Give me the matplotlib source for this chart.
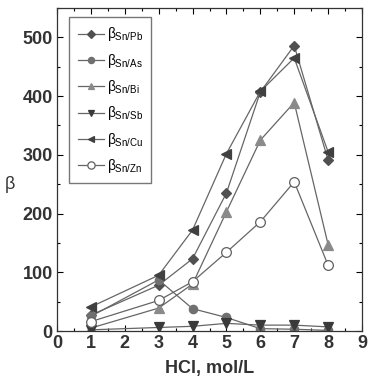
import matplotlib
matplotlib.use("Agg")
import matplotlib.pyplot as plt
from matplotlib.ticker import MultipleLocator

plt.rcParams['font.family'] = ['Liberation Sans', 'DejaVu Sans']
plt.rcParams['mathtext.fontset'] = 'custom'
plt.rcParams['mathtext.rm'] = 'Liberation Sans'
plt.rcParams['mathtext.it'] = 'Liberation Sans'

hcl = [1, 3, 4, 5, 6, 7, 8]
beta_pb = [27, 78, 123, 235, 407, 486, 291]
beta_as = [25, 87, 38, 23, 4, 3, 1]
beta_bi = [5, 39, 80, 203, 325, 389, 147]
beta_sb = [2, 6, 8, 13, 10, 10, 7]
beta_cu = [41, 95, 172, 302, 408, 465, 305]
beta_zn = [16, 52, 84, 134, 186, 254, 112]

labels = [r'$\beta_{\mathrm{Sn/Pb}}$', r'$\beta_{\mathrm{Sn/As}}$', r'$\beta_{\mathrm{Sn/Bi}}$',
          r'$\beta_{\mathrm{Sn/Sb}}$', r'$\beta_{\mathrm{Sn/Cu}}$', r'$\beta_{\mathrm{Sn/Zn}}$']

fig = plt.figure(figsize=(3.69, 3.85), dpi=100)
ax = fig.add_axes([57/369, 1 - 331/385, (362 - 57)/369, (331 - 8)/385])

lc = '#666666'
series = [
    (beta_pb, 'D', '#505050', '#505050', 5.5),
    (beta_as, 'o', '#707070', '#707070', 6),
    (beta_bi, '^', '#8a8a8a', '#8a8a8a', 6.5),
    (beta_sb, 'v', '#3a3a3a', '#3a3a3a', 6.5),
    (beta_cu, '<', '#404040', '#404040', 6.5),
    (beta_zn, 'o', 'white', '#606060', 7),
]
for (vals, m, fc, ec, ms), lab in zip(series, labels):
    ax.plot(hcl, vals, color=lc, lw=0.9, marker=m, ms=ms, mfc=fc, mec=ec,
            mew=0.9, label=lab)

ax.set_xlim(0, 9)
ax.set_ylim(0, 550)
ax.xaxis.set_major_locator(MultipleLocator(1))
ax.xaxis.set_minor_locator(MultipleLocator(0.5))
ax.yaxis.set_major_locator(MultipleLocator(100))
ax.yaxis.set_minor_locator(MultipleLocator(50))
ax.tick_params(which='both', direction='in', top=True, right=True, width=0.8)
ax.tick_params(which='major', length=4, labelsize=13, pad=3)
ax.tick_params(which='minor', length=2)
for lbl in ax.get_xticklabels() + ax.get_yticklabels():
    lbl.set_fontweight('bold')
    lbl.set_color('#333333')
for s in ax.spines.values():
    s.set_linewidth(0.9)
    s.set_color('#333333')

ax.set_xlabel('HCl, mol/L', fontsize=13, fontweight='bold', color='#333333', labelpad=6)
ax.set_ylabel('β', fontsize=13, color='#333333', rotation=0, va='center', ha='center')
ax.yaxis.set_label_coords(-47/305, (331 - 185)/323)

leg = ax.legend(loc='upper left', bbox_to_anchor=(0.04, 0.972), fontsize=10,
                frameon=True, fancybox=False, edgecolor='#555555',
                handlelength=1.9, handletextpad=0.2, labelspacing=0.6,
                borderpad=0.6, borderaxespad=0, markerscale=0.75)
leg.get_frame().set_linewidth(1.0)

fig.savefig('out.png', dpi=100)
